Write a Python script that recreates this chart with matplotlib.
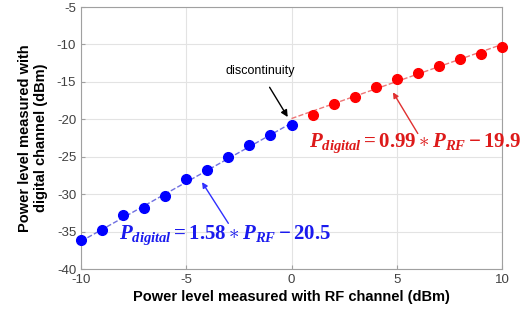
import matplotlib
matplotlib.use("Agg")
import matplotlib.pyplot as plt
import numpy as np

# Data
rf_low = [-10, -9, -8, -7, -6, -5, -4, -3, -2, -1, 0]
dig_low = [-36.1, -34.8, -32.8, -31.8, -30.3, -28.0, -26.8, -25.0, -23.4, -22.1, -20.7]
rf_high = [1, 2, 3, 4, 5, 6, 7, 8, 9, 10]
dig_high = [-19.4, -18.0, -17.0, -15.75, -14.6, -13.8, -12.9, -12.0, -11.3, -10.4]
fit_low = (1.58, -20.5)
fit_high = (0.99, -19.9)
xticks = [-10, -5, 0, 5, 10]
yticks = [-40, -35, -30, -25, -20, -15, -10, -5]

plt.rcParams['font.family'] = ['Liberation Sans', 'DejaVu Sans']
plt.rcParams['axes.unicode_minus'] = False
plt.rcParams['mathtext.fontset'] = 'custom'
plt.rcParams['mathtext.it'] = 'Liberation Serif:italic:bold'
plt.rcParams['mathtext.rm'] = 'Liberation Serif:bold'
plt.rcParams['mathtext.bf'] = 'Liberation Serif:bold'

fig = plt.figure(figsize=(5.24, 3.17), dpi=100)
ax = fig.add_axes([81/524, 1 - 269/317, (502-81)/524, (269-7)/317])

xl = np.array([rf_low[0], rf_low[-1]])
ax.plot(xl, fit_low[0]*xl + fit_low[1], '--', color='#6f6fe0', lw=1.0, zorder=2)
xh = np.array([0, rf_high[-1]])
ax.plot(xh, fit_high[0]*xh + fit_high[1], '--', color='#ee7777', lw=1.0, zorder=2)
ax.plot(rf_low, dig_low, 'o', color='#0000ff', ms=7, zorder=3, clip_on=False)
ax.plot(rf_high, dig_high, 'o', color='#ff0000', ms=7, zorder=3, clip_on=False)

ax.set_xlim(-10, 10)
ax.set_ylim(-40, -5)
ax.set_xticks(xticks)
ax.set_yticks(yticks)
ax.grid(True, color='#e3e3e3', lw=0.8)
ax.set_axisbelow(True)
for s in ax.spines.values():
    s.set_color('#a0a0a0')
    s.set_linewidth(0.8)
ax.tick_params(direction='in', length=3, colors='#a0a0a0', labelcolor='#404040', labelsize=9.5)

ax.set_xlabel('Power level measured with RF channel (dBm)', fontsize=10.5, fontweight='bold', labelpad=3)
ax.set_ylabel('Power level measured with\ndigital channel (dBm)', fontsize=10.5, fontweight='bold', labelpad=6)

ax.annotate('discontinuity', xy=(-0.18, -19.7), xytext=(-1.5, -13.6), ha='center', va='center',
            fontsize=9, color='black',
            arrowprops=dict(arrowstyle='-|>', color='black', lw=1.0, mutation_scale=10, shrinkA=6, shrinkB=0))

ax.annotate('', xy=(4.82, -16.4), xytext=(6.0, -21.9),
            arrowprops=dict(arrowstyle='-|>', color='#e03030', lw=1.0, mutation_scale=8, shrinkA=0, shrinkB=0))
ax.text(0.85, -23.2, r'$P_{digital} = 0.99 \ast P_{RF} - 19.9$', color='#dd1a1a', fontsize=15,
        ha='left', va='center', clip_on=False)

ax.annotate('', xy=(-4.25, -28.4), xytext=(-3.0, -33.9),
            arrowprops=dict(arrowstyle='-|>', color='#3030ff', lw=1.0, mutation_scale=8, shrinkA=0, shrinkB=0))
ax.text(-8.2, -35.5, r'$P_{digital} = 1.58 \ast P_{RF} - 20.5$', color='#1a1aee', fontsize=15,
        ha='left', va='center', clip_on=False)

fig.savefig('out.png', dpi=100)
